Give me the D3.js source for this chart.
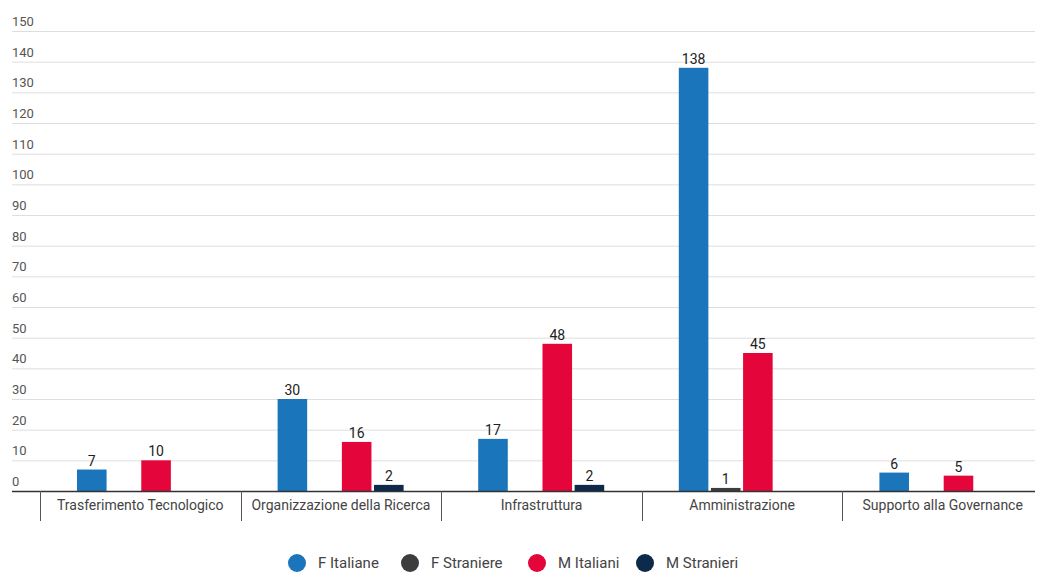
<!DOCTYPE html>
<html><head><meta charset="utf-8">
<script src="https://cdn.jsdelivr.net/npm/d3@7"></script>
<style>body{margin:0;background:#fff;} svg{display:block;font-family:Roboto,"Noto Sans",sans-serif;}</style>
</head><body>
<svg id="chart" width="1038" height="576"></svg>
<script>
const categories = ["Trasferimento Tecnologico","Organizzazione della Ricerca","Infrastruttura","Amministrazione","Supporto alla Governance"];
const seriesNames = ["F Italiane","F Straniere","M Italiani","M Stranieri"];
const fItaliane = [7, 30, 17, 138, 6];
const fStraniere = [null, null, null, 1, null];
const mItaliani = [10, 16, 48, 45, 5];
const mStranieri = [null, 2, 2, null, null];
const yTicks = [0,10,20,30,40,50,60,70,80,90,100,110,120,130,140,150];
const colors = ["#1b75bb","#3d3d3d","#e4053b","#0d2a4b"];

const seriesValues = [fItaliane, fStraniere, mItaliani, mStranieri];
const svg = d3.select("#chart");

const y = d3.scaleLinear().domain([0,150]).range([491, 31]);
const x0 = d3.scaleBand().domain(categories).range([40, 1043]);
const x1 = d3.scaleBand().domain(seriesNames).range([37, 163]).paddingInner(0.08);

// gridlines
svg.append("g").selectAll("line").data(yTicks.filter(d=>d>0)).join("line")
  .attr("x1",12).attr("x2",1035).attr("y1",d=>y(d)+0.5).attr("y2",d=>y(d)+0.5)
  .attr("stroke","#dedede").attr("stroke-width",1);
// y labels
svg.append("g").selectAll("text").data(yTicks).join("text")
  .attr("x",12).attr("y",d=>y(d)-5).attr("font-size",13).attr("fill","#555")
  .text(d=>d);

// bars
const rows = [];
categories.forEach((c,ci)=>seriesNames.forEach((s,si)=>{
  const v = seriesValues[si][ci];
  if (v!==null && v!==undefined) rows.push({c,s,si,v});
}));
svg.append("g").selectAll("rect").data(rows).join("rect")
  .attr("x",d=>x0(d.c)+x1(d.s)).attr("width",x1.bandwidth())
  .attr("y",d=>y(d.v)).attr("height",d=>y(0)-y(d.v))
  .attr("fill",d=>colors[d.si]);
svg.append("g").selectAll("text").data(rows).join("text")
  .attr("x",d=>x0(d.c)+x1(d.s)+x1.bandwidth()/2).attr("y",d=>y(d.v)-4)
  .attr("text-anchor","middle").attr("font-size",14).attr("fill","#222")
  .text(d=>d.v);

// baseline
svg.append("line").attr("x1",12).attr("x2",1035).attr("y1",y(0)+0.5).attr("y2",y(0)+0.5)
  .attr("stroke","#333").attr("stroke-width",1.3);
// separators
svg.append("g").selectAll("line").data(categories).join("line")
  .attr("x1",d=>Math.round(x0(d))+0.5).attr("x2",d=>Math.round(x0(d))+0.5)
  .attr("y1",y(0)).attr("y2",521).attr("stroke","#555").attr("stroke-width",1);
// category labels
svg.append("g").selectAll("text").data(categories).join("text")
  .attr("x",d=>x0(d)+x0.bandwidth()/2).attr("y",510)
  .attr("text-anchor","middle").attr("font-size",14).attr("fill","#444")
  .text(d=>d);

// legend
const legX = [297, 410, 537, 645];
const lg = svg.append("g").selectAll("g").data(seriesNames).join("g")
  .attr("transform",(d,i)=>`translate(${legX[i]},563)`);
lg.append("circle").attr("r",9).attr("fill",(d,i)=>colors[i]);
lg.append("text").attr("x",21).attr("y",5).attr("font-size",15).attr("fill","#444").text(d=>d);
</script>
</body></html>
